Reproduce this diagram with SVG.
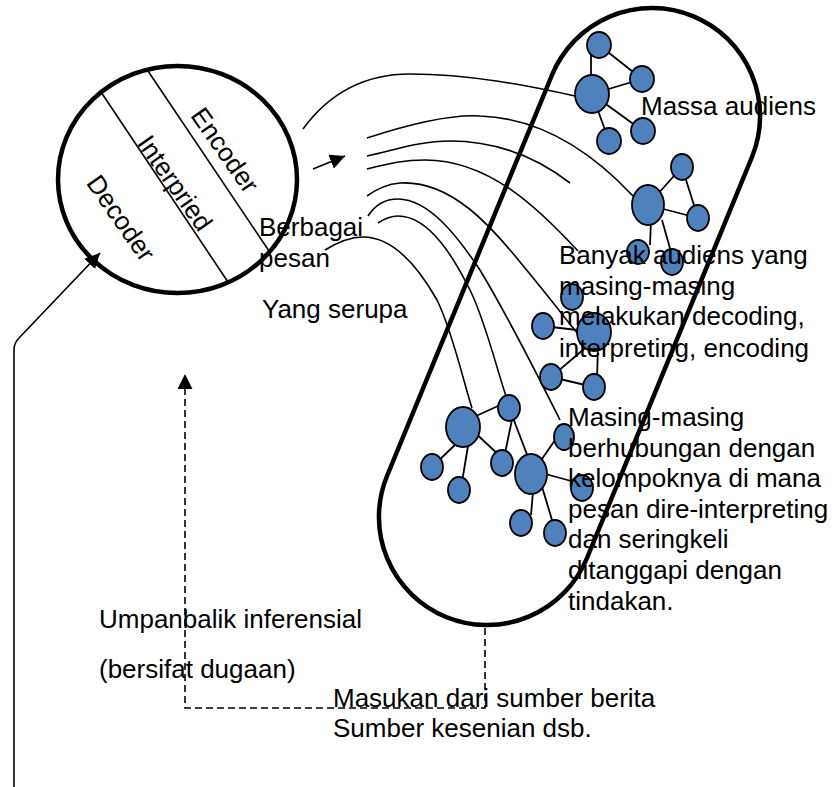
<svg xmlns="http://www.w3.org/2000/svg" width="839" height="787" viewBox="0 0 839 787">
<style>
 text { font-family: "Liberation Sans", Arial, sans-serif; font-size: 26px; fill: #000; }
 .thick { fill: none; stroke: #000; stroke-width: 4.5; }
 .thin { fill: none; stroke: #000; stroke-width: 1.6; }
 .curve { fill: none; stroke: #000; stroke-width: 1.6; }
 .edge { stroke: #000; stroke-width: 1.8; }
 .nd { fill: #4F81BD; stroke: #000; stroke-width: 1.8; }
 .dash { fill: none; stroke: #000; stroke-width: 1.6; stroke-dasharray: 7 4; }
</style>
<defs>
 <marker id="ah" viewBox="0 0 10 10" refX="10" refY="5" markerWidth="15" markerHeight="15" markerUnits="userSpaceOnUse" orient="auto"><path d="M0,0 L10,5 L0,10 z" fill="#000"/></marker>
</defs>
<rect width="839" height="787" fill="#fff"/>

<g id="connectors">
 <path class="curve" d="M303,129 C330,92 365,74 410,74 C470,74 530,86 575,96"/>
 <path class="curve" d="M367,138 C410,124 450,114 480,116 C540,118 590,150 633,196"/>
 <path class="curve" d="M367,156 C395,150 420,141 450,141 C500,141 540,160 570,183"/>
 <path class="curve" d="M367,169 C390,163 405,160 425,160 C490,160 540,210 578,251"/>
 <path class="curve" d="M367,196 C378,188 388,184 400,183 C450,180 490,225 520,262 C545,292 565,318 578,334"/>
 <path class="curve" d="M368,216 C375,205 385,199 398,199 C430,199 460,240 480,270 C510,320 540,380 560,420"/>
 <path class="curve" d="M378,223 C384,219 390,216 398,216 C430,216 455,260 470,290 C485,320 497,370 506,396"/>
 <path class="curve" d="M325,250 C338,242 350,237 363,237 C395,237 420,270 437,300 C452,330 463,380 472,408"/>
 <path class="thin" d="M313,169 L345,156" marker-end="url(#ah)"/>
 <path class="thin" d="M14,787 L14,350 Q14,343 19,338 L100,253" marker-end="url(#ah)"/>
 <path class="dash" d="M485,628 L485,708 L185,708 L185,374" marker-end="url(#ah)"/>
</g>

<g id="communicator">
 <ellipse cx="177.5" cy="179.5" rx="119.5" ry="113.5" class="thick"/>
 <line class="thin" x1="148" y1="71" x2="269" y2="251"/>
 <line class="thin" x1="101" y1="92" x2="228" y2="282"/>
 <text transform="translate(225,150) rotate(55)" text-anchor="middle" y="9">Encoder</text>
 <text transform="translate(175,183) rotate(55)" text-anchor="middle" y="9">Interpried</text>
 <text transform="translate(121,218) rotate(55)" text-anchor="middle" y="9">Decoder</text>
</g>

<g id="audience">
 <path class="thick" d="M552,75 A108,108 0 0 1 752,157 L587,558 A108,108 0 0 1 387,476 Z"/>
</g>

<g id="group-1">
 <line class="edge" x1="591" y1="55" x2="591" y2="80"/>
 <line class="edge" x1="599" y1="45" x2="642" y2="79"/>
 <line class="edge" x1="592" y1="94" x2="642" y2="79"/>
 <line class="edge" x1="592" y1="94" x2="643" y2="131"/>
 <line class="edge" x1="592" y1="94" x2="609" y2="141"/>
 <ellipse class="nd" cx="599" cy="45" rx="12" ry="13"/>
 <ellipse class="nd" cx="592" cy="94" rx="17" ry="19"/>
 <ellipse class="nd" cx="642" cy="79" rx="12" ry="13"/>
 <ellipse class="nd" cx="643" cy="131" rx="12" ry="13"/>
 <ellipse class="nd" cx="609" cy="141" rx="12" ry="13"/>
</g>

<g id="group-2">
 <line class="edge" x1="648" y1="205" x2="682" y2="167"/>
 <line class="edge" x1="682" y1="167" x2="698" y2="218"/>
 <line class="edge" x1="648" y1="205" x2="698" y2="218"/>
 <line class="edge" x1="651" y1="220" x2="650" y2="245"/>
 <line class="edge" x1="662" y1="220" x2="671" y2="252"/>
 <ellipse class="nd" cx="648" cy="205" rx="16" ry="20"/>
 <ellipse class="nd" cx="682" cy="167" rx="11" ry="13"/>
 <ellipse class="nd" cx="698" cy="218" rx="11" ry="13"/>
 <ellipse class="nd" cx="638" cy="252" rx="11" ry="12"/>
 <ellipse class="nd" cx="672" cy="262" rx="11" ry="13"/>
</g>

<g id="group-3">
 <line class="edge" x1="543" y1="326" x2="594" y2="332"/>
 <line class="edge" x1="590" y1="344" x2="551" y2="377"/>
 <line class="edge" x1="598" y1="345" x2="597" y2="380"/>
 <line class="edge" x1="551" y1="377" x2="594" y2="387"/>
 <ellipse class="nd" cx="572" cy="297" rx="11" ry="13"/>
 <ellipse class="nd" cx="543" cy="326" rx="11" ry="13"/>
 <ellipse class="nd" cx="594" cy="332" rx="17" ry="19"/>
 <ellipse class="nd" cx="551" cy="377" rx="11" ry="13"/>
 <ellipse class="nd" cx="594" cy="387" rx="11" ry="13"/>
</g>

<g id="group-4">
 <line class="edge" x1="465" y1="421" x2="509" y2="401"/>
 <line class="edge" x1="460" y1="440" x2="432" y2="467"/>
 <line class="edge" x1="469" y1="440" x2="461" y2="488"/>
 <line class="edge" x1="470" y1="428" x2="502" y2="458"/>
 <line class="edge" x1="514" y1="410" x2="503" y2="463"/>
 <line class="edge" x1="510" y1="410" x2="531" y2="465"/>
 <line class="edge" x1="535" y1="469" x2="562" y2="430"/>
 <line class="edge" x1="531" y1="470" x2="582" y2="484"/>
 <line class="edge" x1="534" y1="480" x2="531" y2="515"/>
 <line class="edge" x1="540" y1="480" x2="555" y2="530"/>
 <ellipse class="nd" cx="463" cy="427" rx="17" ry="20"/>
 <ellipse class="nd" cx="509" cy="408" rx="11" ry="13"/>
 <ellipse class="nd" cx="432" cy="467" rx="11" ry="13"/>
 <ellipse class="nd" cx="459" cy="490" rx="11" ry="13"/>
 <ellipse class="nd" cx="502" cy="463" rx="11" ry="13"/>
 <ellipse class="nd" cx="531" cy="474" rx="16" ry="20"/>
 <ellipse class="nd" cx="564" cy="437" rx="10" ry="13"/>
 <ellipse class="nd" cx="582" cy="488" rx="11" ry="13"/>
 <ellipse class="nd" cx="521" cy="523" rx="11" ry="13"/>
 <ellipse class="nd" cx="555" cy="533" rx="11" ry="13"/>
</g>

<g id="labels">
 <text x="641" y="115">Massa audiens</text>
 <text x="259" y="236">Berbagai</text>
 <text x="259" y="267">pesan</text>
 <text x="262" y="318">Yang serupa</text>
 <text x="559" y="264">Banyak audiens yang</text>
 <text x="559" y="295">masing-masing</text>
 <text x="559" y="325">melakukan decoding,</text>
 <text x="559" y="357">interpreting, encoding</text>
 <text x="568" y="426">Masing-masing</text>
 <text x="568" y="456.6">berhubungan dengan</text>
 <text x="568" y="487.2">kelompoknya di mana</text>
 <text x="568" y="517.8">pesan dire-interpreting</text>
 <text x="568" y="548.4">dan seringkeli</text>
 <text x="568" y="579">ditanggapi dengan</text>
 <text x="568" y="609.6">tindakan.</text>
 <text x="99" y="628">Umpanbalik inferensial</text>
 <text x="99" y="678">(bersifat dugaan)</text>
 <text x="333" y="707">Masukan dari sumber berita</text>
 <text x="333" y="737">Sumber kesenian dsb.</text>
</g>
</svg>
